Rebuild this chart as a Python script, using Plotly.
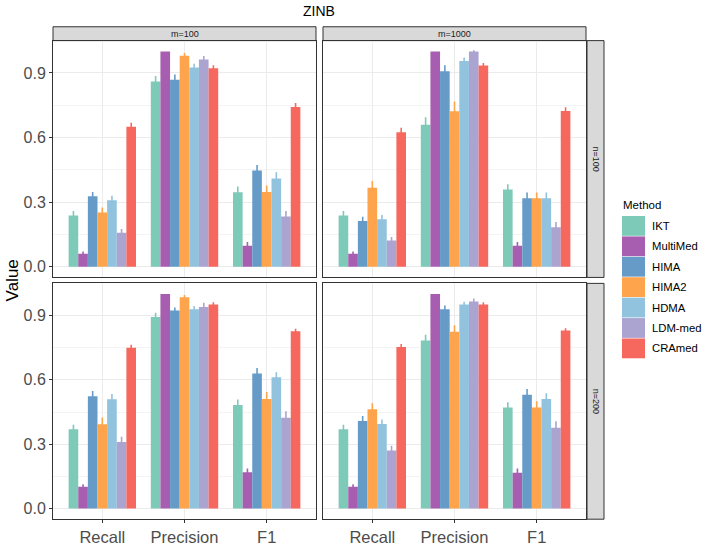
import plotly.graph_objects as go

W, H = 705, 546

methods = ["IKT", "MultiMed", "HIMA", "HIMA2", "HDMA", "LDM-med", "CRAmed"]
colors = ["#7ECAB9", "#A85EB0", "#669BC8", "#FDA44C", "#92C3DE", "#ABA4D0", "#F6685E"]
metrics = ["Recall", "Precision", "F1"]
ytick_vals = [0.0, 0.3, 0.6, 0.9]
ytick_text = ["0.0", "0.3", "0.6", "0.9"]
col_labels = ["m=100", "m=1000"]
row_labels = ["n=100", "n=200"]

# values per panel and metric, in method order
m100_n100_recall = [0.238, 0.060, 0.327, 0.252, 0.309, 0.158, 0.650]
m100_n100_precision = [0.860, 1.000, 0.868, 0.980, 0.925, 0.962, 0.922]
m100_n100_f1 = [0.346, 0.097, 0.447, 0.347, 0.410, 0.233, 0.742]
m1000_n100_recall = [0.238, 0.060, 0.212, 0.367, 0.220, 0.121, 0.624]
m1000_n100_precision = [0.659, 1.000, 0.908, 0.722, 0.955, 0.999, 0.934]
m1000_n100_f1 = [0.358, 0.097, 0.318, 0.318, 0.318, 0.183, 0.723]
m100_n200_recall = [0.370, 0.101, 0.523, 0.393, 0.509, 0.310, 0.750]
m100_n200_precision = [0.893, 1.000, 0.923, 0.985, 0.929, 0.940, 0.951]
m100_n200_f1 = [0.483, 0.169, 0.630, 0.511, 0.612, 0.423, 0.827]
m1000_n200_recall = [0.370, 0.101, 0.408, 0.463, 0.394, 0.270, 0.753]
m1000_n200_precision = [0.784, 1.000, 0.929, 0.824, 0.952, 0.965, 0.951]
m1000_n200_f1 = [0.471, 0.167, 0.531, 0.471, 0.511, 0.376, 0.830]

# error half-widths
m100_n100_recall_err = [0.020, 0.010, 0.020, 0.023, 0.020, 0.017, 0.018]
m100_n100_precision_err = [0.026, 0.000, 0.025, 0.012, 0.018, 0.017, 0.014]
m100_n100_f1_err = [0.026, 0.018, 0.025, 0.030, 0.028, 0.026, 0.018]
m1000_n100_recall_err = [0.020, 0.010, 0.020, 0.031, 0.020, 0.017, 0.021]
m1000_n100_precision_err = [0.035, 0.000, 0.028, 0.045, 0.017, 0.006, 0.012]
m1000_n100_f1_err = [0.025, 0.017, 0.026, 0.026, 0.026, 0.025, 0.017]
m100_n200_recall_err = [0.021, 0.012, 0.025, 0.031, 0.025, 0.025, 0.014]
m100_n200_precision_err = [0.020, 0.000, 0.015, 0.011, 0.015, 0.020, 0.011]
m100_n200_f1_err = [0.025, 0.018, 0.025, 0.032, 0.023, 0.031, 0.011]
m1000_n200_recall_err = [0.021, 0.012, 0.023, 0.028, 0.021, 0.023, 0.014]
m1000_n200_precision_err = [0.026, 0.000, 0.018, 0.031, 0.012, 0.014, 0.011]
m1000_n200_f1_err = [0.025, 0.020, 0.026, 0.029, 0.026, 0.031, 0.011]

panels = [
    (0, 0, [m100_n100_recall, m100_n100_precision, m100_n100_f1],
     [m100_n100_recall_err, m100_n100_precision_err, m100_n100_f1_err]),
    (0, 1, [m1000_n100_recall, m1000_n100_precision, m1000_n100_f1],
     [m1000_n100_recall_err, m1000_n100_precision_err, m1000_n100_f1_err]),
    (1, 0, [m100_n200_recall, m100_n200_precision, m100_n200_f1],
     [m100_n200_recall_err, m100_n200_precision_err, m100_n200_f1_err]),
    (1, 1, [m1000_n200_recall, m1000_n200_precision, m1000_n200_f1],
     [m1000_n200_recall_err, m1000_n200_precision_err, m1000_n200_f1_err]),
]

# pixel layout
col_px = [(53, 316), (323, 586)]
row_px = [(41, 280), (286, 524)]
strip_top = (27, 41)
strip_right = (587, 604)

def px_x(p):
    return p / W

def px_y(p):
    return 1 - p / H

FONT = "Liberation Sans, Arial, Helvetica, sans-serif"

fig = go.Figure()
layout = {}
for idx, (r, c, vals, errs) in enumerate(panels):
    k = idx + 1
    xa = "x" if k == 1 else f"x{k}"
    ya = "y" if k == 1 else f"y{k}"
    for mi, (m, col) in enumerate(zip(methods, colors)):
        fig.add_trace(go.Bar(
            x=metrics,
            y=[vals[j][mi] for j in range(3)],
            error_y=dict(type="data", array=[errs[j][mi] for j in range(3)],
                         color=col, thickness=1.6, width=0, visible=True),
            marker=dict(color=col, line=dict(width=0)),
            name=m, showlegend=False, xaxis=xa, yaxis=ya,
            offsetgroup=str(mi),
        ))
    xname = "xaxis" if k == 1 else f"xaxis{k}"
    yname = "yaxis" if k == 1 else f"yaxis{k}"
    x0, x1 = col_px[c]
    y0, y1 = row_px[r]
    layout[xname] = dict(
        domain=[px_x(x0), px_x(x1)], anchor=ya,
        type="category", categoryorder="array", categoryarray=metrics,
        range=[-0.6, 2.6],
        showgrid=True, gridcolor="#EBEBEB", gridwidth=1,
        showline=True, mirror=True, linecolor="#333333", linewidth=1,
        ticks="outside" if r == 1 else "", ticklen=3, tickcolor="#333333",
        showticklabels=(r == 1),
        tickfont=dict(size=16.5, color="#4D4D4D", family=FONT),
        zeroline=False,
    )
    layout[yname] = dict(
        domain=[px_y(y1), px_y(y0)], anchor=xa,
        range=[-0.05, 1.05],
        tickvals=ytick_vals, ticktext=ytick_text,
        showgrid=True, gridcolor="#EBEBEB", gridwidth=1,
        minor=dict(tickvals=[0.15, 0.45, 0.75], showgrid=True,
                   gridcolor="#F4F4F4", gridwidth=0.6, ticks=""),
        showline=True, mirror=True, linecolor="#333333", linewidth=1,
        ticks="outside" if c == 0 else "", ticklen=3, tickcolor="#333333",
        showticklabels=(c == 0),
        tickfont=dict(size=16, color="#4D4D4D", family=FONT),
        zeroline=False,
    )

shapes = []
annotations = []
for c, lab in enumerate(col_labels):
    x0, x1 = col_px[c]
    shapes.append(dict(type="rect", xref="paper", yref="paper",
                       x0=px_x(x0), x1=px_x(x1), y0=px_y(strip_top[1]), y1=px_y(strip_top[0]),
                       fillcolor="#D9D9D9", line=dict(color="#333333", width=1), layer="below"))
    annotations.append(dict(xref="paper", yref="paper", x=px_x((x0 + x1) / 2),
                            y=px_y((strip_top[0] + strip_top[1]) / 2),
                            text=lab, showarrow=False, xanchor="center", yanchor="middle",
                            font=dict(size=9, color="#1A1A1A", family=FONT)))
for r, lab in enumerate(row_labels):
    y0, y1 = row_px[r]
    shapes.append(dict(type="rect", xref="paper", yref="paper",
                       x0=px_x(strip_right[0]), x1=px_x(strip_right[1]), y0=px_y(y1), y1=px_y(y0),
                       fillcolor="#D9D9D9", line=dict(color="#333333", width=1), layer="below"))
    annotations.append(dict(xref="paper", yref="paper", x=px_x((strip_right[0] + strip_right[1]) / 2),
                            y=px_y((y0 + y1) / 2), text=lab, textangle=90, showarrow=False,
                            xanchor="center", yanchor="middle",
                            font=dict(size=9, color="#1A1A1A", family=FONT)))

# legend (drawn manually to get ggplot-style large keys)
annotations.append(dict(xref="paper", yref="paper", x=px_x(621), y=px_y(207), text="Method",
                        showarrow=False, xanchor="left", yanchor="middle",
                        font=dict(size=11.5, color="#000000", family=FONT)))
for i, (m, col) in enumerate(zip(methods, colors)):
    top = 218 + i * 20.6
    shapes.append(dict(type="rect", xref="paper", yref="paper",
                       x0=px_x(622), x1=px_x(645), y0=px_y(top + 20), y1=px_y(top),
                       fillcolor=col, line=dict(width=0)))
    annotations.append(dict(xref="paper", yref="paper", x=px_x(650), y=px_y(top + 10), text=m,
                            showarrow=False, xanchor="left", yanchor="middle",
                            font=dict(size=11.3, color="#000000", family=FONT)))

annotations.append(dict(xref="paper", yref="paper", x=px_x(319), y=px_y(11), text="ZINB",
                        showarrow=False, xanchor="center", yanchor="middle",
                        font=dict(size=14, color="#000000", family=FONT)))
annotations.append(dict(xref="paper", yref="paper", x=px_x(12), y=px_y(283), text="Value",
                        textangle=-90, showarrow=False, xanchor="center", yanchor="middle",
                        font=dict(size=17, color="#000000", family=FONT)))

fig.update_layout(
    width=W, height=H,
    margin=dict(l=0, r=0, t=0, b=0),
    paper_bgcolor="white", plot_bgcolor="white",
    barmode="group", bargap=0.18, bargroupgap=0,
    showlegend=False,
    shapes=shapes, annotations=annotations,
    font=dict(family=FONT),
    **layout,
)

fig.write_html("out.html")
